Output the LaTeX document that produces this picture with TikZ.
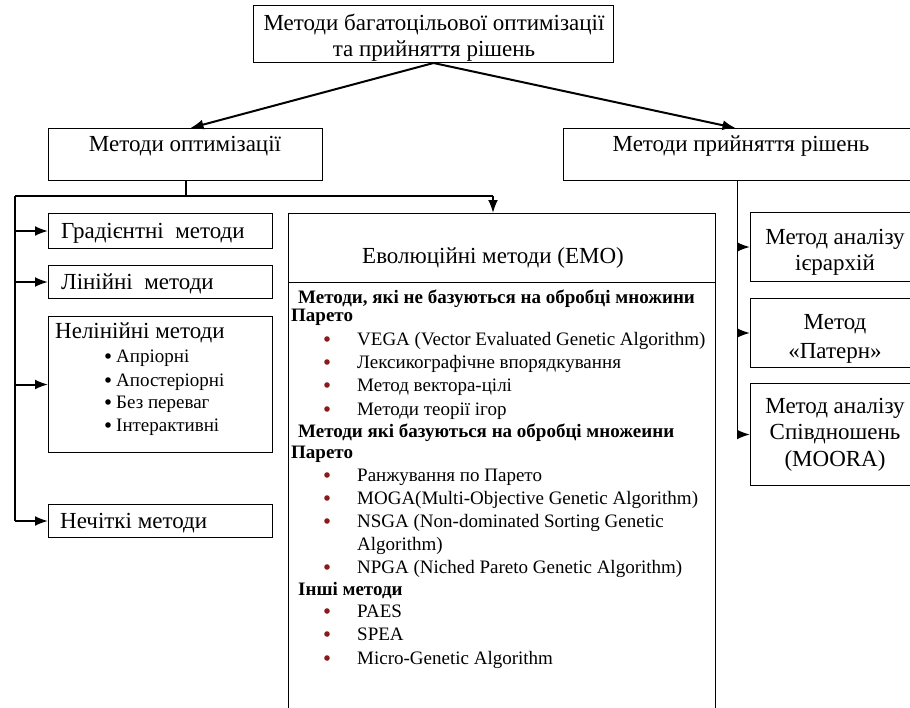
\documentclass[tikz,border=0pt]{standalone}
\usepackage{fontspec}
\setmainfont{Liberation Serif}
\usetikzlibrary{arrows.meta}
\definecolor{bred}{HTML}{8B1A1A}
\tikzset{
  box/.style={draw, line width=1pt, anchor=north west, inner sep=0pt},
  conn/.style={line width=2pt},
  arr/.style={conn, -{Latex[length=13pt,width=10pt]}},
  bigl/.style={inner sep=0pt, anchor=base west, font=\fontsize{23}{26}\selectfont},
  bigc/.style={inner sep=0pt, anchor=base, font=\fontsize{23}{26}\selectfont},
  itm/.style={inner sep=0pt, anchor=base west, font=\fontsize{19}{20}\selectfont},
  hdr/.style={inner sep=0pt, anchor=base west, font=\fontsize{19}{20}\selectfont\bfseries},
  small/.style={inner sep=0pt, anchor=base west, font=\fontsize{19}{20}\selectfont},
}
\begin{document}
\begin{tikzpicture}[x=1pt,y=-1pt]
\useasboundingbox (0,0) rectangle (910,707);
% boxes
\node[box, minimum width=360pt, minimum height=57pt] (top) at (253,5) {};
\node[box, minimum width=274pt, minimum height=52pt] (opt) at (48,128) {};
\node[box, minimum width=352pt, minimum height=52pt] (dec) at (563,128) {};
\node[box, minimum width=224pt, minimum height=35pt] (grad) at (48,213) {};
\node[box, minimum width=224pt, minimum height=33pt] (lin) at (48,265) {};
\node[box, minimum width=224pt, minimum height=136pt] (nlin) at (48,316) {};
\node[box, minimum width=224pt, minimum height=33pt] (fuzzy) at (48,504) {};
\node[box, minimum width=427pt, minimum height=500pt] (emo) at (288,213) {};
\node[box, minimum width=165pt, minimum height=69pt] (r1) at (750,212) {};
\node[box, minimum width=165pt, minimum height=69pt] (r2) at (750,298) {};
\node[box, minimum width=165pt, minimum height=102pt] (r3) at (750,383) {};
\draw[line width=1pt] ([yshift=-69pt]emo.north west) -- ([yshift=-69pt]emo.north east);
% texts
\node[bigc] (t1) at (434,30) {Методи багатоцільової оптимізації};
\node[bigc] (t2) at (434,56) {та прийняття рішень};
\node[bigc] (topt) at (185,151) {Методи оптимізації};
\node[bigc] (tdec) at (741,151) {Методи прийняття рішень};
\node[bigl] (tgrad) at (61,238) {Градієнтні\hspace{0.5em}методи};
\node[bigl] (tlin) at (61,289) {Лінійні\hspace{0.5em}методи};
\node[bigl] (tnlin) at (55,338) {Нелінійні методи};
\node[bigl] (tfuzzy) at (60,528) {Нечіткі методи};
\foreach \yy/\tt [count=\i] in {356/Апріорні,380/Апостеріорні,402/Без переваг,425/Інтерактивні}{
  \fill (108,\yy) circle (2.8);
  \node[small] (nl\i) at (116,\yy+6) {\tt};
}
\node[bigc] (temo) at (493,263) {Еволюційні методи (ЕМО)};
\node[hdr] (h1) at (298,303) {Методи, які не базуються на обробці множини};
\node[hdr] (h1b) at (291,321) {Парето};
\node[hdr] (h2) at (298,437) {Методи які базуються на обробці множеини};
\node[hdr] (h2b) at (291,458) {Парето};
\node[hdr] (h3) at (298,595) {Інші методи};
\foreach \yy/\tt [count=\i] in {339/VEGA (Vector Evaluated Genetic Algorithm),362/Лексикографічне впорядкування,385/Метод вектора-цілі,409/Методи теорії ігор,475/Ранжування по Парето,498/MOGA(Multi-Objective Genetic Algorithm),521/NSGA (Non-dominated Sorting Genetic,567/NPGA (Niched Pareto Genetic Algorithm),611/PAES,634/SPEA,658/Micro-Genetic Algorithm}{
  \fill[bred] (327,\yy) circle (2.8);
  \node[itm] (e\i) at (357,\yy+6) {\tt};
}
\node[itm] (e7b) at (357,550) {Algorithm)};
\node[bigc] (r1a) at (835,244) {Метод аналізу};
\node[bigc] (r1b) at (835,270) {ієрархій};
\node[bigc] (r2a) at (835,329) {Метод};
\node[bigc] (r2b) at (835,358) {«Патерн»};
\node[bigc] (r3a) at (835,413) {Метод аналізу};
\node[bigc] (r3b) at (835,439) {Співдношень};
\node[bigc] (r3c) at (835,466) {(MOORA)};
% connectors
\draw[arr] (top.south) -- ([xshift=5pt]opt.north);
\draw[arr] (top.south) -- ([xshift=-4pt]dec.north);
\coordinate (lj) at (15,196);
\coordinate (rj) at (493,196);
\draw[conn] (opt.south) -- (opt.south |- lj);
\draw[conn] (lj) -- (rj);
\draw[arr] (rj) -- (rj |- emo.north);
\draw[conn] (lj) -- (lj |- fuzzy.west);
\foreach \n in {grad,lin,nlin,fuzzy}{
  \draw[arr] (lj |- \n.west) -- (\n.west);
}
\coordinate (rv) at (737,180);
\draw[line width=1pt] (rv) -- (rv |- r3.west);
\foreach \n in {r1,r2,r3}{
  \draw[arr] (rv |- \n.west) -- (\n.west);
}
\end{tikzpicture}
\end{document}
